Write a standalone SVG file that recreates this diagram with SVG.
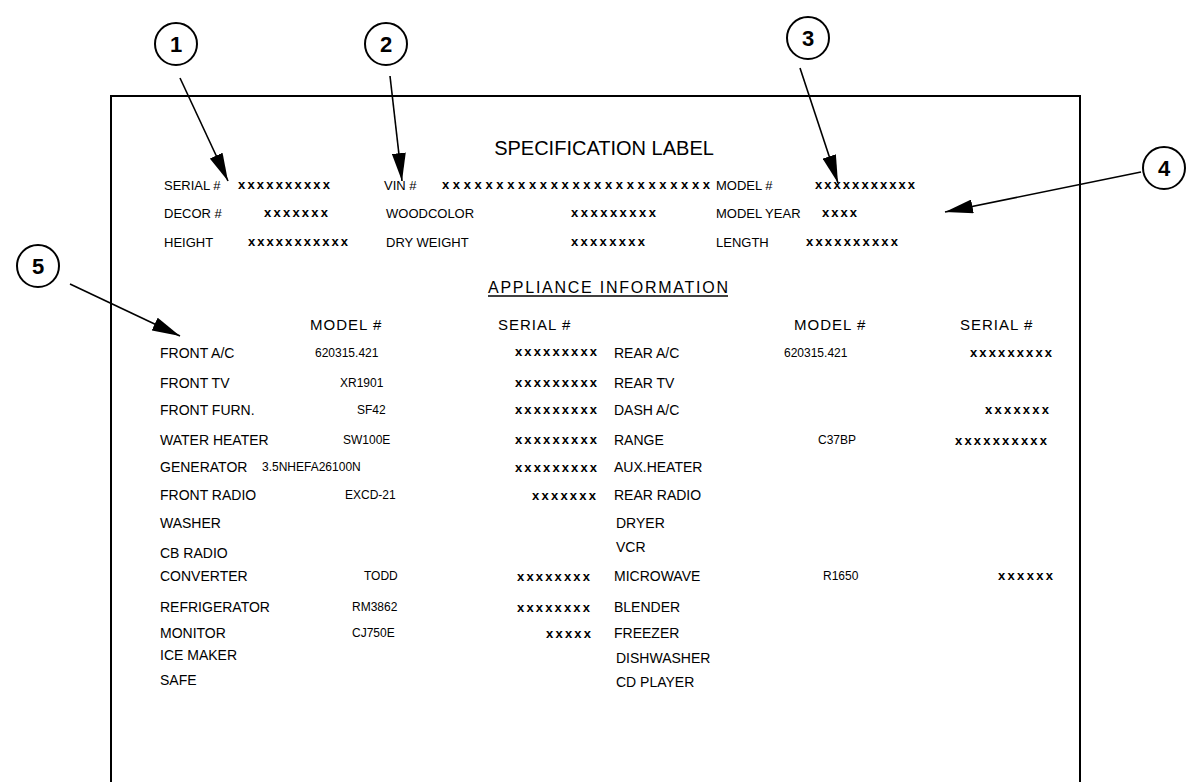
<svg xmlns="http://www.w3.org/2000/svg" width="1193" height="782" viewBox="0 0 1193 782">
<style>
text{font-family:"Liberation Sans",Arial,sans-serif;fill:#000}
.lbl{font-size:14px}
.top{font-size:13px}
.hdr{font-size:15px;letter-spacing:1px}
.num{font-size:12px}
.xs{font-size:13px;font-weight:bold}
.cl{fill:#fff;stroke:#000;stroke-width:2}
.cn{font-size:22px;font-weight:bold;text-anchor:middle}
.ar{stroke:#000;stroke-width:1.6;fill:none;marker-end:url(#ah)}
</style>
<defs>
<marker id="ah" markerUnits="userSpaceOnUse" markerWidth="30" markerHeight="14" refX="28" refY="7" orient="auto">
<path d="M0,0 L28,7 L0,14 Z" fill="#000"/>
</marker>
</defs>
<rect width="1193" height="782" fill="#fff"/>
<g id="label-frame">
<path d="M111,782 L111,96 L1080,96 L1080,782" fill="none" stroke="#000" stroke-width="2"/>
</g>
<g id="callout-1"><circle class="cl" cx="176" cy="44" r="21"/><text class="cn" x="176" y="52">1</text></g>
<g id="callout-2"><circle class="cl" cx="386" cy="44" r="21"/><text class="cn" x="386" y="52">2</text></g>
<g id="callout-3"><circle class="cl" cx="808" cy="38" r="21"/><text class="cn" x="808" y="46">3</text></g>
<g id="callout-4"><circle class="cl" cx="1164" cy="168" r="21"/><text class="cn" x="1164" y="176">4</text></g>
<g id="callout-5"><circle class="cl" cx="38" cy="266" r="21"/><text class="cn" x="38" y="274">5</text></g>
<g id="connectors">
<line class="ar" x1="180" y1="78" x2="228" y2="181"/>
<line class="ar" x1="390" y1="76" x2="402" y2="181"/>
<line class="ar" x1="800" y1="68" x2="838" y2="183"/>
<line class="ar" x1="1141" y1="172" x2="945" y2="212"/>
<line class="ar" x1="70" y1="284" x2="180" y2="336"/>
</g>
<g id="spec-header">
<text x="604" y="155" font-size="20" text-anchor="middle">SPECIFICATION LABEL</text>
<text class="top" x="164" y="190">SERIAL #</text>
<text class="xs" x="238" y="189" textLength="92" lengthAdjust="spacing">xxxxxxxxxx</text>
<text class="top" x="384" y="190">VIN #</text>
<text class="xs" x="442" y="189" textLength="268" lengthAdjust="spacing">xxxxxxxxxxxxxxxxxxxxxxxxx</text>
<text class="top" x="716" y="190">MODEL #</text>
<text class="xs" x="815" y="189" textLength="100" lengthAdjust="spacing">xxxxxxxxxxx</text>
<text class="top" x="164" y="218">DECOR #</text>
<text class="xs" x="264" y="217" textLength="64" lengthAdjust="spacing">xxxxxxx</text>
<text class="top" x="386" y="218">WOODCOLOR</text>
<text class="xs" x="571" y="217" textLength="85" lengthAdjust="spacing">xxxxxxxxx</text>
<text class="top" x="716" y="218">MODEL YEAR</text>
<text class="xs" x="822" y="217" textLength="35" lengthAdjust="spacing">xxxx</text>
<text class="top" x="164" y="247">HEIGHT</text>
<text class="xs" x="248" y="246" textLength="100" lengthAdjust="spacing">xxxxxxxxxxx</text>
<text class="top" x="386" y="247">DRY WEIGHT</text>
<text class="xs" x="571" y="246" textLength="74" lengthAdjust="spacing">xxxxxxxx</text>
<text class="top" x="716" y="247">LENGTH</text>
<text class="xs" x="806" y="246" textLength="92" lengthAdjust="spacing">xxxxxxxxxx</text>
</g>
<g id="appliance-info">
<text x="488" y="293" font-size="16" textLength="240" lengthAdjust="spacing">APPLIANCE INFORMATION</text>
<line x1="488" y1="296" x2="728" y2="296" stroke="#000" stroke-width="1.5"/>
<text class="hdr" x="310" y="330">MODEL #</text>
<text class="hdr" x="498" y="330">SERIAL #</text>
<text class="hdr" x="794" y="330">MODEL #</text>
<text class="hdr" x="960" y="330">SERIAL #</text>
</g>
<g id="left-column">
<text class="lbl" x="160" y="358">FRONT A/C</text>
<text class="num" x="315" y="357">620315.421</text>
<text class="xs" x="515" y="356" textLength="82" lengthAdjust="spacing">xxxxxxxxx</text>
<text class="lbl" x="160" y="388">FRONT TV</text>
<text class="num" x="340" y="387">XR1901</text>
<text class="xs" x="515" y="387" textLength="82" lengthAdjust="spacing">xxxxxxxxx</text>
<text class="lbl" x="160" y="415">FRONT FURN.</text>
<text class="num" x="357" y="414">SF42</text>
<text class="xs" x="515" y="414" textLength="82" lengthAdjust="spacing">xxxxxxxxx</text>
<text class="lbl" x="160" y="445">WATER HEATER</text>
<text class="num" x="343" y="444">SW100E</text>
<text class="xs" x="515" y="444" textLength="82" lengthAdjust="spacing">xxxxxxxxx</text>
<text class="lbl" x="160" y="472">GENERATOR</text>
<text class="num" x="262" y="471">3.5NHEFA26100N</text>
<text class="xs" x="515" y="472" textLength="82" lengthAdjust="spacing">xxxxxxxxx</text>
<text class="lbl" x="160" y="500">FRONT RADIO</text>
<text class="num" x="345" y="499">EXCD-21</text>
<text class="xs" x="532" y="500" textLength="64" lengthAdjust="spacing">xxxxxxx</text>
<text class="lbl" x="160" y="528">WASHER</text>
<text class="lbl" x="160" y="558">CB RADIO</text>
<text class="lbl" x="160" y="581">CONVERTER</text>
<text class="num" x="364" y="580">TODD</text>
<text class="xs" x="517" y="581" textLength="73" lengthAdjust="spacing">xxxxxxxx</text>
<text class="lbl" x="160" y="612">REFRIGERATOR</text>
<text class="num" x="352" y="611">RM3862</text>
<text class="xs" x="517" y="612" textLength="73" lengthAdjust="spacing">xxxxxxxx</text>
<text class="lbl" x="160" y="638">MONITOR</text>
<text class="num" x="352" y="637">CJ750E</text>
<text class="xs" x="546" y="638" textLength="45" lengthAdjust="spacing">xxxxx</text>
<text class="lbl" x="160" y="660">ICE MAKER</text>
<text class="lbl" x="160" y="685">SAFE</text>
</g>
<g id="right-column">
<text class="lbl" x="614" y="358">REAR A/C</text>
<text class="num" x="784" y="357">620315.421</text>
<text class="xs" x="970" y="357" textLength="82" lengthAdjust="spacing">xxxxxxxxx</text>
<text class="lbl" x="614" y="388">REAR TV</text>
<text class="lbl" x="614" y="415">DASH A/C</text>
<text class="xs" x="985" y="414" textLength="64" lengthAdjust="spacing">xxxxxxx</text>
<text class="lbl" x="614" y="445">RANGE</text>
<text class="num" x="818" y="444">C37BP</text>
<text class="xs" x="955" y="445" textLength="92" lengthAdjust="spacing">xxxxxxxxxx</text>
<text class="lbl" x="614" y="472">AUX.HEATER</text>
<text class="lbl" x="614" y="500">REAR RADIO</text>
<text class="lbl" x="616" y="528">DRYER</text>
<text class="lbl" x="616" y="552">VCR</text>
<text class="lbl" x="614" y="581">MICROWAVE</text>
<text class="num" x="823" y="580">R1650</text>
<text class="xs" x="998" y="580" textLength="55" lengthAdjust="spacing">xxxxxx</text>
<text class="lbl" x="614" y="612">BLENDER</text>
<text class="lbl" x="614" y="638">FREEZER</text>
<text class="lbl" x="616" y="663">DISHWASHER</text>
<text class="lbl" x="616" y="687">CD PLAYER</text>
</g>
</svg>
